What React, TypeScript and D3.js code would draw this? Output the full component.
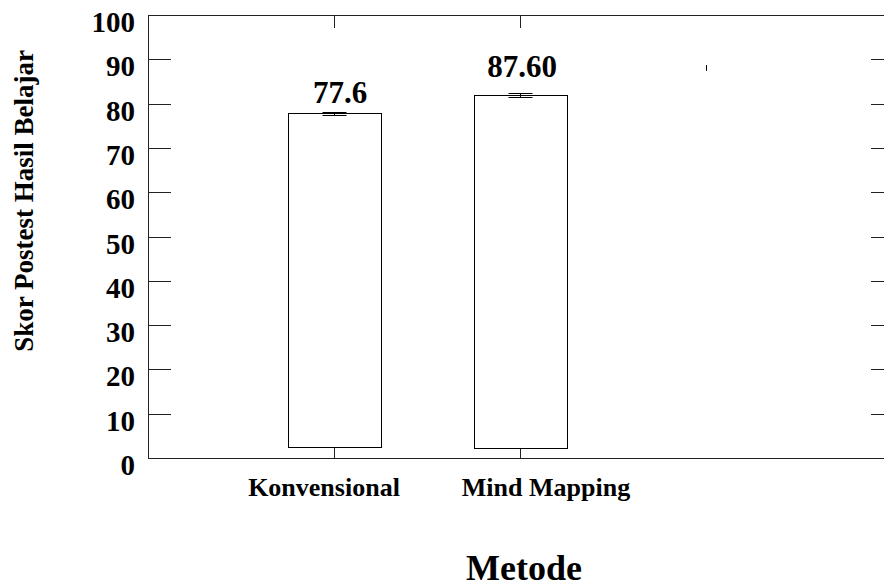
import React, { useEffect, useRef } from "react";
import * as d3 from "d3";

// categories on the x axis (third slot is empty in the original)
const categories = ["Konvensional", "Mind Mapping", ""];
const barCategories = ["Konvensional", "Mind Mapping"];
// bar tops as drawn (the printed labels differ from the bar heights)
const barValues = [77.8, 81.9];
const barBase = 2.3;
const valueLabels = ["77.6", "87.60"];
const errLow = [77.4, 81.4];
const errHigh = [78.1, 82.3];
// stray error line in the empty third slot
const strayErr = { cat: "", low: 87.4, high: 88.7 };
const yTicks = [0, 10, 20, 30, 40, 50, 60, 70, 80, 90, 100];

const labelShift = [6, 2];
const catLabelShift = [-10, 26];

const FONT = "Liberation Serif, Tinos, DejaVu Serif, serif";

export default function App() {
    const ref = useRef<SVGSVGElement>(null);

    useEffect(() => {
        const W = 884;
        const H = 587;
        const margin = { top: 15, left: 148, right: 0, bottom: 129 };
        const width = W - margin.left - margin.right;
        const height = H - margin.top - margin.bottom;

        const svgRoot = d3.select(ref.current);
        svgRoot.selectAll("*").remove();

        const svg = svgRoot
            .append("g")
            .attr("transform", `translate(${margin.left}, ${margin.top})`);

        // the plot runs a little past the right edge of the picture
        const xScale = d3
            .scalePoint<string>()
            .domain(categories)
            .range([0, width + 8])
            .padding(1);

        const yScale = d3.scaleLinear().domain([0, 100]).range([height, 0]);

        const step = xScale.step();
        const barW = step * 0.5;

        const txt = (sel: any, size: number) =>
            sel
                .attr("font-family", FONT)
                .attr("font-weight", "bold")
                .attr("font-size", size)
                .attr("fill", "#000");

        // frame lines
        const stroke = "#222";
        svg.append("line")
            .attr("x1", 0).attr("x2", width + 2)
            .attr("y1", 0.5).attr("y2", 0.5)
            .attr("stroke", stroke);
        svg.append("line")
            .attr("x1", 0).attr("x2", width + 2)
            .attr("y1", height + 0.5).attr("y2", height + 0.5)
            .attr("stroke", stroke);
        svg.append("line")
            .attr("x1", 0.5).attr("x2", 0.5)
            .attr("y1", 0).attr("y2", height)
            .attr("stroke", stroke);

        // y ticks left and right
        yTicks.forEach((t) => {
            const y = Math.round(yScale(t)) + 0.5;
            svg.append("line")
                .attr("x1", 0).attr("x2", 23)
                .attr("y1", y).attr("y2", y)
                .attr("stroke", stroke);
            svg.append("line")
                .attr("x1", width - 13).attr("x2", width)
                .attr("y1", y).attr("y2", y)
                .attr("stroke", stroke);
            txt(svg.append("text"), 29)
                .attr("x", -13)
                .attr("y", yScale(t) + 17)
                .attr("text-anchor", "end")
                .text(t);
        });

        // category ticks top and bottom
        barCategories.forEach((c) => {
            const x = Math.round(xScale(c)!) + 0.5;
            svg.append("line")
                .attr("x1", x).attr("x2", x)
                .attr("y1", 0).attr("y2", 13)
                .attr("stroke", stroke);
            svg.append("line")
                .attr("x1", x).attr("x2", x)
                .attr("y1", height - 13).attr("y2", height)
                .attr("stroke", stroke);
        });

        // bars
        svg.selectAll(".bar")
            .data(barValues)
            .enter()
            .append("rect")
            .attr("class", "bar")
            .attr("x", (d, i) => Math.round(xScale(barCategories[i])! - barW / 2) + 0.5)
            .attr("y", (d) => Math.round(yScale(d)) + 0.5)
            .attr("width", Math.round(barW))
            .attr("height", (d) => Math.round(yScale(barBase) - yScale(d)))
            .attr("fill", "#fff")
            .attr("stroke", "#000");

        // error bars
        barCategories.forEach((c, i) => {
            const x = Math.round(xScale(c)!) + 0.5;
            const g = svg.append("g");
            g.append("line")
                .attr("x1", x).attr("x2", x)
                .attr("y1", yScale(errHigh[i])).attr("y2", yScale(errLow[i]))
                .attr("stroke", "#000");
            [errHigh[i], errLow[i]].forEach((v) => {
                g.append("line")
                    .attr("x1", x - 12).attr("x2", x + 12)
                    .attr("y1", Math.round(yScale(v)) + 0.5)
                    .attr("y2", Math.round(yScale(v)) + 0.5)
                    .attr("stroke", "#000");
            });
        });

        const sx = Math.round(xScale(strayErr.cat)!) + 0.5;
        svg.append("line")
            .attr("x1", sx).attr("x2", sx)
            .attr("y1", yScale(strayErr.high)).attr("y2", yScale(strayErr.low))
            .attr("stroke", "#000");

        // value labels
        const labelY = [barValues[0] + 2.3, barValues[1] + 4];
        valueLabels.forEach((l, i) => {
            txt(svg.append("text"), 31)
                .attr("x", xScale(barCategories[i])! + labelShift[i])
                .attr("y", yScale(labelY[i]))
                .attr("text-anchor", "middle")
                .text(l);
        });

        // category labels
        barCategories.forEach((c, i) => {
            txt(svg.append("text"), 26)
                .attr("x", xScale(c)! + catLabelShift[i])
                .attr("y", height + 38)
                .attr("text-anchor", "middle")
                .text(c);
        });

        // axis titles
        txt(svgRoot.append("text"), 27)
            .attr("transform", `translate(33, 201) rotate(-90)`)
            .attr("text-anchor", "middle")
            .text("Skor Postest Hasil Belajar");

        txt(svgRoot.append("text"), 36)
            .attr("x", 524)
            .attr("y", 580)
            .attr("text-anchor", "middle")
            .text("Metode");
    }, []);

    return (
        <svg
            ref={ref}
            width={884}
            height={587}
            style={{ position: "absolute", left: 0, top: 0, background: "#fff" }}
        />
    );
}
